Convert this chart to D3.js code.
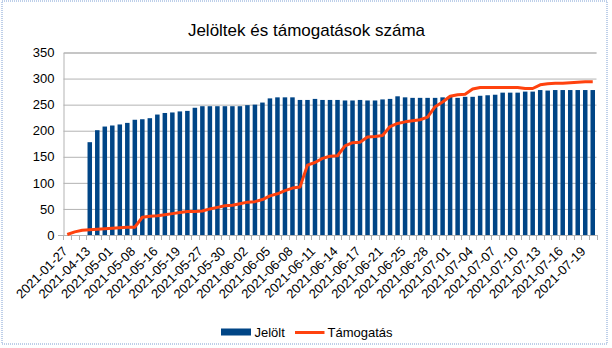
<!DOCTYPE html>
<html><head><meta charset="utf-8">
<script src="https://cdn.jsdelivr.net/npm/d3@7"></script>
<style>body{margin:0;background:#fff;} svg{display:block;font-family:"Liberation Sans",Arial,sans-serif;}</style>
</head><body>
<svg id="c" width="612" height="348"></svg>
<script>
const categories = [
"2021-01-27","2021-03-02","2021-04-06","2021-04-13","2021-04-19","2021-04-26","2021-05-01","2021-05-03","2021-05-05","2021-05-08",
"2021-05-10","2021-05-13","2021-05-16","2021-05-17","2021-05-18","2021-05-19","2021-05-21","2021-05-24","2021-05-27","2021-05-28",
"2021-05-29","2021-05-30","2021-05-31","2021-06-01","2021-06-02","2021-06-03","2021-06-04","2021-06-05","2021-06-06","2021-06-07",
"2021-06-08","2021-06-09","2021-06-10","2021-06-11","2021-06-12","2021-06-13","2021-06-14","2021-06-15","2021-06-16","2021-06-17",
"2021-06-18","2021-06-19","2021-06-21","2021-06-22","2021-06-23","2021-06-25","2021-06-26","2021-06-27","2021-06-28","2021-06-29",
"2021-06-30","2021-07-01","2021-07-02","2021-07-03","2021-07-04","2021-07-05","2021-07-06","2021-07-07","2021-07-08","2021-07-09",
"2021-07-10","2021-07-11","2021-07-12","2021-07-13","2021-07-14","2021-07-15","2021-07-16","2021-07-17","2021-07-18","2021-07-19",
"2021-07-20"];
const jelolt = [
null,null,null,178,201,208,210,212,215,221,
222,224,231,234,235,237,238,244,247,247,
247,247,247,247,249,250,254,262,264,264,
264,259,259,261,259,259,259,258,258,259,
258,258,260,261,266,264,263,263,263,263,
264,266,263,265,265,267,268,269,273,273,
273,275,275,278,277,278,278,278,278,278,
278];
const tamogatas = [
1,6,9,10,11,12,13,14,15,15,
34,36,37,39,41,43,45,45,46,50,
53,56,57,60,63,64,68,75,79,85,
90,92,134,139,147,151,152,171,177,178,
188,189,191,208,214,217,219,221,226,246,
255,266,269,270,280,283,283,283,283,283,
283,281,281,288,290,291,291,292,293,294,
294];
const yTicks = [0,50,100,150,200,250,300,350];
const seriesNames = ["Jelölt","Támogatás"];
const titleText = "Jelöltek és támogatások száma";

(function(){
const svg = d3.select("#c");
const pL = 63.5, pR = 596.5, pT = 52.5, pB = 235;
const grid = "#b3b3b3";
const barColor = "#004586", lineColor = "#ff420e";

svg.append("rect").attr("x",2).attr("y",1).attr("width",605).attr("height",343)
  .attr("fill","none").attr("stroke","#7d9fd3").attr("stroke-dasharray","1,1").attr("stroke-width",1);

svg.append("text").attr("x",306.5).attr("y",36).attr("text-anchor","middle")
  .attr("font-size",17).attr("fill","#000").text(titleText);

const x = d3.scaleBand().domain(categories).range([pL,pR]).paddingInner(0.4).paddingOuter(0.2);
const y = d3.scaleLinear().domain([0,350]).range([pB,pT]);

const yAxis = d3.axisLeft(y).tickValues(yTicks).tickSize(-(pR-pL)).tickPadding(9);
const gy = svg.append("g").attr("transform",`translate(${pL},0)`).call(yAxis);
gy.select(".domain").attr("stroke",grid);
gy.selectAll(".tick line").attr("stroke",grid);
gy.selectAll(".tick text").attr("font-size",13).attr("fill","#000").attr("font-family","Liberation Sans, Arial, sans-serif");

svg.append("g").selectAll("rect").data(categories.map((c,i)=>({c,v:jelolt[i]})).filter(d=>d.v!=null))
  .enter().append("rect")
  .attr("x",d=>x(d.c)).attr("width",x.bandwidth())
  .attr("y",d=>y(d.v)).attr("height",d=>y(0)-y(d.v))
  .attr("fill",barColor);

const gap = (x.step()-x.bandwidth())/2;
const bounds = categories.map(c=>x(c)-gap).concat([pR]);
const gx = svg.append("g");
gx.append("line").attr("x1",58).attr("x2",pR).attr("y1",pB+0.5).attr("y2",pB+0.5).attr("stroke",grid);
gx.selectAll("line.t").data(bounds).enter().append("line").attr("class","t")
  .attr("x1",d=>Math.round(d)+0.5).attr("x2",d=>Math.round(d)+0.5).attr("y1",pB).attr("y2",pB+5).attr("stroke",grid);
gx.selectAll("text").data(categories.filter((c,i)=>i%3===0 && i<70)).enter().append("text")
  .attr("transform",d=>`translate(${x(d)+x.bandwidth()/2-2},${pB+14}) rotate(-45)`)
  .attr("text-anchor","end").attr("dy","0.35em").attr("font-size",13).attr("fill","#000").text(d=>d);

const line = d3.line().x((d,i)=>x(categories[i])+x.bandwidth()/2).y(d=>y(d));
svg.append("path").datum(tamogatas).attr("d",line).attr("fill","none")
  .attr("stroke",lineColor).attr("stroke-width",3).attr("stroke-linejoin","round");

const lg = svg.append("g");
lg.append("rect").attr("x",221).attr("y",328.5).attr("width",30).attr("height",7).attr("fill",barColor);
lg.append("text").attr("x",254.5).attr("y",337).attr("font-size",13).text(seriesNames[0]);
lg.append("line").attr("x1",295).attr("x2",324.5).attr("y1",332.5).attr("y2",332.5).attr("stroke",lineColor).attr("stroke-width",3);
lg.append("text").attr("x",327.5).attr("y",337).attr("font-size",13).text(seriesNames[1]);
})();
</script>
</body></html>
